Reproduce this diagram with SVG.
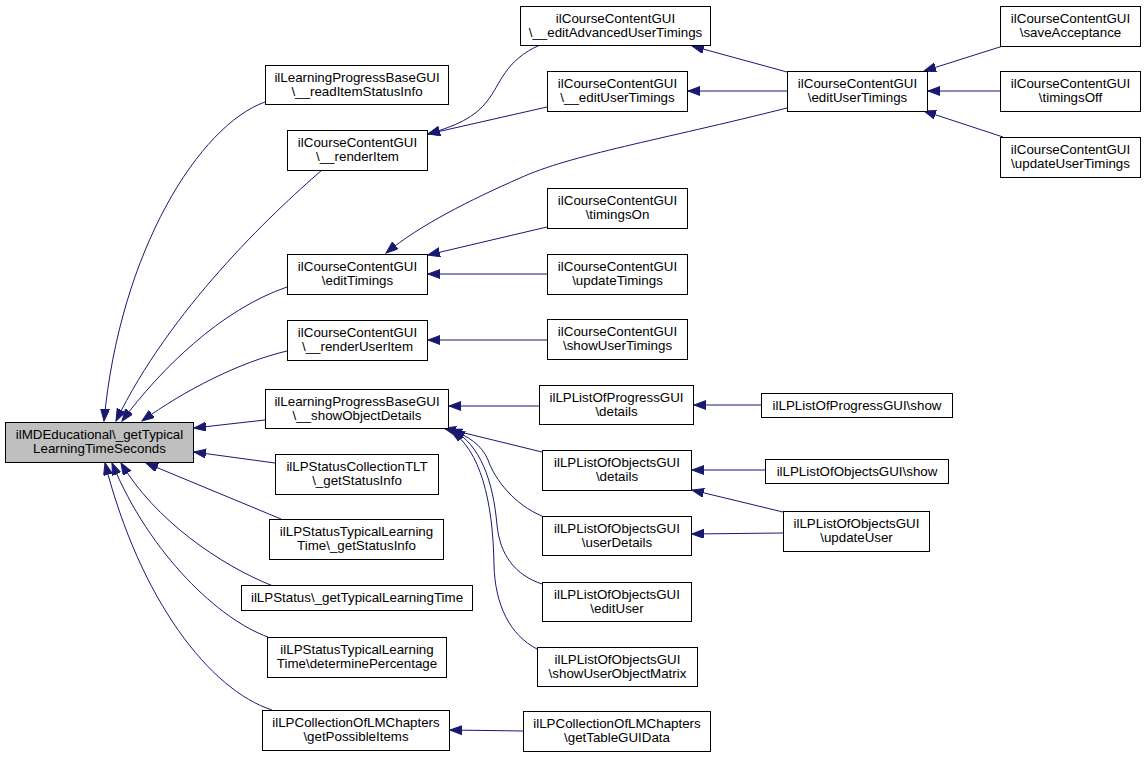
<svg xmlns="http://www.w3.org/2000/svg" width="1145" height="757" viewBox="0 0 1145 757">
<defs>
<style>
.node rect{fill:#ffffff;stroke:#000000;stroke-width:1}
.node.main rect{fill:#bfbfbf}
text{font-family:"Liberation Sans",Arial,Helvetica,sans-serif;font-size:13.33px;text-anchor:middle;fill:#000000}
.edges path{fill:none;stroke:#191970;stroke-width:1;marker-end:url(#arr)}
</style>
<marker id="arr" markerUnits="userSpaceOnUse" markerWidth="13" markerHeight="10" refX="12" refY="4.5" orient="auto">
<path d="M0,0 L12,4.5 L0,9 z" fill="#191970" stroke="#191970" stroke-width="1"/>
</marker>
</defs>
<rect x="0" y="0" width="1145" height="757" fill="#ffffff"/>
<g class="edges" id="edges">
<path d="M265,102 C200,125 120,250 104,421"/>
<path d="M322,170 C270,215 170,310 116,421"/>
<path d="M287,287 C220,310 160,370 122,421"/>
<path d="M287,351 C240,362 185,390 142,421"/>
<path d="M265,420 L194,428"/>
<path d="M275,463 L194,452"/>
<path d="M281,519 L146,463"/>
<path d="M273,586 C220,565 155,520 121,463"/>
<path d="M268,637 C220,620 150,555 112,463"/>
<path d="M272,710 C210,690 140,600 105,463"/>
<path d="M540,45 C505,60 500,85 488,100 C475,118 455,126 428,134"/>
<path d="M547,107 L428,134"/>
<path d="M787,72 L692,46"/>
<path d="M787,91 L688,91"/>
<path d="M787,108 C660,140 570,155 520,178 C470,200 420,225 386,253"/>
<path d="M1003,46 L924,71"/>
<path d="M1000,91 L928,91"/>
<path d="M1003,137 L924,111"/>
<path d="M547,227 L428,255"/>
<path d="M547,274 L428,274"/>
<path d="M547,340 L428,340"/>
<path d="M539,406 L449,406"/>
<path d="M542,452 L444,428"/>
<path d="M542,516 C515,505 495,480 488,460 C482,445 468,436 450,429"/>
<path d="M542,584 C515,575 500,555 497,525 C493,480 480,445 453,430"/>
<path d="M537,649 C510,635 495,605 494,565 C493,500 480,450 451,431"/>
<path d="M761,405 L694,405"/>
<path d="M765,470 L692,470"/>
<path d="M783,512 L692,490"/>
<path d="M783,533 L692,534"/>
<path d="M523,731 L450,730"/>
</g>
<g class="node main" id="n_main"><rect x="5.5" y="422.5" width="188" height="40"/><text x="99.5" y="438.5">ilMDEducational\_getTypical</text><text x="99.5" y="453">LearningTimeSeconds</text></g>
<g class="node" id="n_readItemStatusInfo"><rect x="265.5" y="65.5" width="183" height="39"/><text x="357" y="81.5">ilLearningProgressBaseGUI</text><text x="357" y="96">\__readItemStatusInfo</text></g>
<g class="node" id="n_renderItem"><rect x="287.5" y="130.5" width="140" height="40"/><text x="357.5" y="146.5">ilCourseContentGUI</text><text x="357.5" y="161">\__renderItem</text></g>
<g class="node" id="n_editTimings"><rect x="287.5" y="254.5" width="140" height="40"/><text x="357.5" y="270.5">ilCourseContentGUI</text><text x="357.5" y="285">\editTimings</text></g>
<g class="node" id="n_renderUserItem"><rect x="287.5" y="320.5" width="140" height="40"/><text x="357.5" y="336.5">ilCourseContentGUI</text><text x="357.5" y="351">\__renderUserItem</text></g>
<g class="node" id="n_showObjectDetails"><rect x="265.5" y="389.5" width="183" height="39"/><text x="357" y="405.5">ilLearningProgressBaseGUI</text><text x="357" y="420">\__showObjectDetails</text></g>
<g class="node" id="n_collectionTLT"><rect x="275.5" y="454.5" width="163" height="40"/><text x="357" y="470.5">ilLPStatusCollectionTLT</text><text x="357" y="485">\_getStatusInfo</text></g>
<g class="node" id="n_tltStatusInfo"><rect x="269.5" y="519.5" width="174" height="40"/><text x="356.5" y="535.5">ilLPStatusTypicalLearning</text><text x="356.5" y="550">Time\_getStatusInfo</text></g>
<g class="node" id="n_getTypicalLearningTime"><rect x="241.5" y="585.5" width="231" height="25"/><text x="357" y="601.5">ilLPStatus\_getTypicalLearningTime</text></g>
<g class="node" id="n_determinePercentage"><rect x="267.5" y="637.5" width="179" height="40"/><text x="357" y="653.5">ilLPStatusTypicalLearning</text><text x="357" y="668">Time\determinePercentage</text></g>
<g class="node" id="n_getPossibleItems"><rect x="262.5" y="710.5" width="187" height="40"/><text x="356" y="726.5">ilLPCollectionOfLMChapters</text><text x="356" y="741">\getPossibleItems</text></g>
<g class="node" id="n_editAdvancedUserTimings"><rect x="520.5" y="6.5" width="190" height="39"/><text x="615.5" y="22.5">ilCourseContentGUI</text><text x="615.5" y="37">\__editAdvancedUserTimings</text></g>
<g class="node" id="n__editUserTimings"><rect x="547.5" y="71.5" width="140" height="40"/><text x="617.5" y="87.5">ilCourseContentGUI</text><text x="617.5" y="102">\__editUserTimings</text></g>
<g class="node" id="n_timingsOn"><rect x="547.5" y="188.5" width="140" height="40"/><text x="617.5" y="204.5">ilCourseContentGUI</text><text x="617.5" y="219">\timingsOn</text></g>
<g class="node" id="n_updateTimings"><rect x="547.5" y="254.5" width="140" height="40"/><text x="617.5" y="270.5">ilCourseContentGUI</text><text x="617.5" y="285">\updateTimings</text></g>
<g class="node" id="n_showUserTimings"><rect x="547.5" y="319.5" width="140" height="40"/><text x="617.5" y="335.5">ilCourseContentGUI</text><text x="617.5" y="350">\showUserTimings</text></g>
<g class="node" id="n_progressDetails"><rect x="539.5" y="385.5" width="154" height="39"/><text x="616.5" y="401.5">ilLPListOfProgressGUI</text><text x="616.5" y="416">\details</text></g>
<g class="node" id="n_objectsDetails"><rect x="542.5" y="450.5" width="149" height="40"/><text x="617" y="466.5">ilLPListOfObjectsGUI</text><text x="617" y="481">\details</text></g>
<g class="node" id="n_userDetails"><rect x="542.5" y="516.5" width="149" height="39"/><text x="617" y="532.5">ilLPListOfObjectsGUI</text><text x="617" y="547">\userDetails</text></g>
<g class="node" id="n_editUser"><rect x="542.5" y="582.5" width="149" height="39"/><text x="617" y="598.5">ilLPListOfObjectsGUI</text><text x="617" y="613">\editUser</text></g>
<g class="node" id="n_showUserObjectMatrix"><rect x="537.5" y="647.5" width="160" height="39"/><text x="617.5" y="663.5">ilLPListOfObjectsGUI</text><text x="617.5" y="678">\showUserObjectMatrix</text></g>
<g class="node" id="n_getTableGUIData"><rect x="523.5" y="711.5" width="187" height="40"/><text x="617" y="727.5">ilLPCollectionOfLMChapters</text><text x="617" y="742">\getTableGUIData</text></g>
<g class="node" id="n_editUserTimings"><rect x="787.5" y="71.5" width="140" height="40"/><text x="857.5" y="87.5">ilCourseContentGUI</text><text x="857.5" y="102">\editUserTimings</text></g>
<g class="node" id="n_saveAcceptance"><rect x="1000.5" y="6.5" width="140" height="40"/><text x="1070.5" y="22.5">ilCourseContentGUI</text><text x="1070.5" y="37">\saveAcceptance</text></g>
<g class="node" id="n_timingsOff"><rect x="1000.5" y="71.5" width="140" height="40"/><text x="1070.5" y="87.5">ilCourseContentGUI</text><text x="1070.5" y="102">\timingsOff</text></g>
<g class="node" id="n_updateUserTimings"><rect x="1000.5" y="137.5" width="140" height="40"/><text x="1070.5" y="153.5">ilCourseContentGUI</text><text x="1070.5" y="168">\updateUserTimings</text></g>
<g class="node" id="n_progressShow"><rect x="761.5" y="393.5" width="191" height="24"/><text x="857" y="409.5">ilLPListOfProgressGUI\show</text></g>
<g class="node" id="n_objectsShow"><rect x="765.5" y="459.5" width="183" height="24"/><text x="857" y="475.5">ilLPListOfObjectsGUI\show</text></g>
<g class="node" id="n_updateUser"><rect x="783.5" y="511.5" width="146" height="40"/><text x="856.5" y="527.5">ilLPListOfObjectsGUI</text><text x="856.5" y="542">\updateUser</text></g>
</svg>
